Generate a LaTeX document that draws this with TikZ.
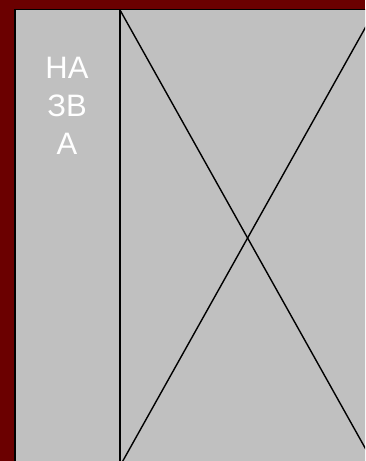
\documentclass[tikz,border=0pt]{standalone}
\usepackage{fontspec}
\setmainfont{Liberation Sans}
\usetikzlibrary{positioning}
\definecolor{frameRed}{HTML}{6B0000}
\definecolor{panelGray}{HTML}{C0C0C0}
\tikzset{
    panel/.style = {draw=black, fill=panelGray, line width=1.2pt},
    stroke/.style = {draw=black, line width=1.4pt},
    title/.style = {text=white, font=\fontsize{31}{38}\selectfont, align=center, inner sep=0pt}
}
\begin{document}
\begin{tikzpicture}[x=1pt, y=-1pt]
        % Background
        \useasboundingbox (0,0) rectangle (365,461);
        \clip (0,0) rectangle (365,461);
        \fill[frameRed] (0,0) rectangle (365,461);
        
        % Panel
        \path[panel] (15,9.5) rectangle (390,480);
        \coordinate (splitTop) at (120,9.5);
        \coordinate (splitBottom) at (120,480);
        \coordinate (crossTL) at (120,10);
        \coordinate (crossTR) at (375.2,10);
        \coordinate (crossBL) at (120,466);
        \coordinate (crossBR) at (375.2,466);
        
        % Lines
        \draw[stroke] (splitTop) -- (splitBottom);
        \draw[stroke] (crossTL) -- (crossBR);
        \draw[stroke] (crossTR) -- (crossBL);
        
        % Title
        \node[title] (name) at (67,106) {НА\\ЗВ\\А};
    \end{tikzpicture}
\end{document}
